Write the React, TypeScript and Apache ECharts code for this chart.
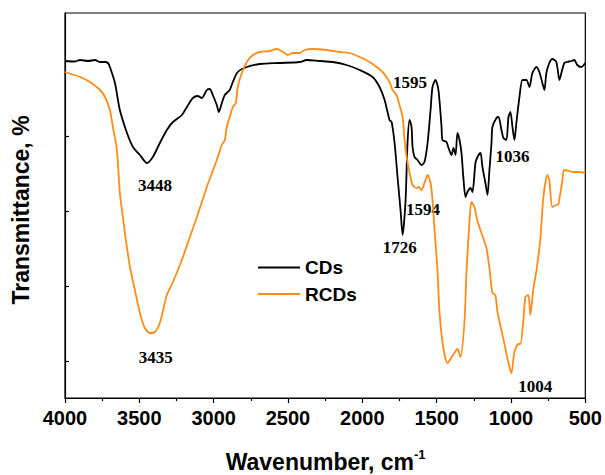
import React, { useEffect, useRef } from "react";
import * as echarts from "echarts";

// CDs spectrum (wavenumber cm-1, transmittance in arbitrary units)
const cdsWavenumber = [4000, 3933, 3899, 3845, 3798, 3765, 3731, 3711, 3698, 3664, 3631, 3583, 3543, 3496, 3449, 3409, 3362, 3315, 3274, 3214, 3180, 3140, 3107, 3080, 3046, 3026, 3006, 2979, 2965, 2945, 2925, 2892, 2871, 2838, 2777, 2690, 2556, 2421, 2374, 2287, 2200, 2106, 2018, 1931, 1884, 1850, 1817, 1803, 1783, 1763, 1743, 1729, 1709, 1696, 1682, 1669, 1662, 1649, 1629, 1602, 1582, 1561, 1541, 1528, 1508, 1488, 1467, 1461, 1434, 1420, 1400, 1387, 1373, 1360, 1346, 1333, 1319, 1306, 1293, 1272, 1259, 1239, 1225, 1205, 1192, 1172, 1158, 1145, 1131, 1125, 1098, 1084, 1064, 1051, 1031, 1017, 1004, 990, 977, 963, 943, 923, 896, 876, 856, 829, 809, 789, 775, 762, 742, 722, 695, 674, 661, 641, 621, 594, 574, 554, 527, 500];
const cdsTransmittance = [337, 336.5, 338, 337, 338, 336, 336, 335, 331, 315, 288, 265, 251, 243, 235, 241, 255, 268, 276, 283, 291, 300, 302, 300, 308, 309, 303, 293, 286, 295, 303, 308, 316, 326, 331, 334, 335, 336, 338, 337, 336, 333, 328, 321, 311, 298, 278, 276, 255, 221, 188, 163, 198, 255, 278, 271, 251, 241, 238, 233, 236, 255, 288, 311, 318, 308, 271, 258, 256, 250, 243, 250, 243, 265, 258, 245, 218, 201, 206, 210, 206, 235, 241, 245, 231, 215, 203, 228, 255, 271, 280, 281, 268, 260, 258, 281, 286, 271, 258, 276, 301, 318, 318, 311, 325, 331, 326, 315, 308, 325, 335, 339, 336, 318, 325, 335, 336, 337, 338, 333, 331, 335];

// RCDs spectrum
const rcdsWavenumber = [4000, 3899, 3832, 3765, 3731, 3698, 3678, 3651, 3631, 3617, 3597, 3563, 3530, 3496, 3463, 3429, 3395, 3362, 3335, 3315, 3274, 3214, 3160, 3113, 3046, 2979, 2945, 2925, 2912, 2892, 2871, 2851, 2838, 2811, 2777, 2737, 2690, 2623, 2576, 2556, 2522, 2502, 2468, 2421, 2388, 2334, 2240, 2153, 2085, 2018, 1951, 1864, 1817, 1797, 1770, 1750, 1729, 1716, 1702, 1682, 1662, 1635, 1622, 1602, 1582, 1561, 1541, 1528, 1514, 1494, 1481, 1454, 1427, 1394, 1360, 1340, 1313, 1299, 1279, 1266, 1246, 1225, 1192, 1165, 1145, 1125, 1105, 1091, 1051, 1017, 997, 977, 950, 937, 916, 903, 883, 870, 849, 829, 802, 782, 755, 742, 722, 695, 681, 654, 641, 574, 540, 500];
const rcdsTransmittance = [326, 321, 316, 308, 301, 288, 271, 248, 205, 188, 165, 131, 108, 85, 70, 65, 66, 75, 91, 103, 116, 138, 161, 181, 211, 238, 253, 258, 271, 281, 291, 295, 311, 325, 336, 343, 346, 347, 349, 348, 345, 343, 345, 345, 348, 349, 348, 346, 345, 341, 336, 326, 316, 308, 303, 293, 281, 258, 241, 225, 213, 210, 211, 208, 215, 223, 215, 198, 168, 127, 86, 49, 35, 42, 49, 41, 76, 127, 177, 196, 191, 177, 162, 150, 130, 105, 103, 86, 59, 35, 25, 46, 54, 54, 79, 101, 103, 83, 110, 127, 160, 201, 223, 218, 191, 193, 194, 218, 228, 226, 226, 225];

// Peak annotations
const peakLabels = ["3448", "3435", "1595", "1594", "1036", "1726", "1004"];
const peakLabelX = [3395, 3389, 1679, 1592, 990, 1749, 836];
const peakLabelY = [213, 40.5, 315.5, 189, 242, 151, 12];

// Axis ticks
const xTickInterval = 500;
const yTickValues = [36.3, 111.3, 186.3, 261.3, 336.3];

const sans = "'Liberation Sans', Arial, sans-serif";
const serif = "'Liberation Serif', 'Times New Roman', serif";

export default function App() {
  const ref = useRef<HTMLDivElement>(null);
  useEffect(() => {
    if (!ref.current) return;
    const chart = echarts.init(ref.current, null, { renderer: "svg" });
    const cds = cdsWavenumber.map((w, i) => [w, cdsTransmittance[i]]);
    const rcds = rcdsWavenumber.map((w, i) => [w, rcdsTransmittance[i]]);
    const peaks = peakLabels.map((t, i) => ({ value: [peakLabelX[i], peakLabelY[i]], name: t }));
    chart.setOption({
      animation: false,
      grid: { left: 65, right: 19, top: 13, bottom: 77, show: true, borderColor: "#000", borderWidth: 1.2, backgroundColor: "transparent" },
      legend: {
        data: ["CDs", "RCDs"],
        orient: "vertical",
        left: 253,
        top: 253,
        icon: "rect",
        itemWidth: 42,
        itemHeight: 2,
        itemGap: 7.6,
        textStyle: { fontFamily: sans, fontWeight: "bold", fontSize: 19, color: "#000" },
      },
      xAxis: {
        type: "value",
        inverse: true,
        min: 500,
        max: 4000,
        interval: xTickInterval,
        axisLine: { lineStyle: { color: "#000", width: 1.2 } },
        axisTick: { show: true, inside: false, length: 5, lineStyle: { color: "#000", width: 1.2 } },
        minorTick: { show: true, splitNumber: 2, length: 3, lineStyle: { color: "#000", width: 1.2 } },
        axisLabel: { fontFamily: sans, fontWeight: "bold", fontSize: 20, color: "#000", margin: 10, formatter: (v: number) => String(v) },
        splitLine: { show: false },
      },
      yAxis: {
        type: "value",
        min: 0,
        max: 385,
        axisLine: { show: true, lineStyle: { color: "#000", width: 1.2 } },
        axisTick: { show: true, inside: true, length: 4, customValues: yTickValues, lineStyle: { color: "#000", width: 1.2 } },
        axisLabel: { show: false },
        splitLine: { show: false },
      },
      series: [
        { name: "CDs", type: "line", data: cds, symbol: "none", smooth: 0.25, lineStyle: { color: "#000", width: 1.8 }, itemStyle: { color: "#000" } },
        { name: "RCDs", type: "line", data: rcds, symbol: "none", smooth: 0.25, lineStyle: { color: "#ff8c1a", width: 1.8 }, itemStyle: { color: "#ff8c1a" } },
        {
          name: "peaks",
          type: "scatter",
          data: peaks,
          symbolSize: 0,
          silent: true,
          itemStyle: { color: "#000", opacity: 0 },
          label: {
            show: true,
            position: "inside",
            formatter: (p: any) => p.name,
            fontFamily: serif,
            fontWeight: "bold",
            fontSize: 17,
            color: "#000",
            opacity: 1,
            textBorderWidth: 0,
            textBorderColor: "transparent",
          },
        },
      ],
      graphic: [
        { type: "text", x: 414, y: 462, style: { text: "Wavenumber, cm", fontFamily: sans, fontWeight: "bold", fontSize: 23, fill: "#000", align: "right", verticalAlign: "middle" } },
        { type: "text", x: 414, y: 454, style: { text: "-1", fontFamily: sans, fontWeight: "bold", fontSize: 13, fill: "#000", align: "left", verticalAlign: "middle" } },
        { type: "text", x: 21, y: 210, rotation: Math.PI / 2, style: { text: "Transmittance, %", fontFamily: sans, fontWeight: "bold", fontSize: 23, fill: "#000", align: "center", verticalAlign: "middle" } },
      ],
    });
    return () => chart.dispose();
  }, []);
  return <div ref={ref} style={{ position: "fixed", left: 0, top: 0, width: 605, height: 475, background: "#fff" }} />;
}
